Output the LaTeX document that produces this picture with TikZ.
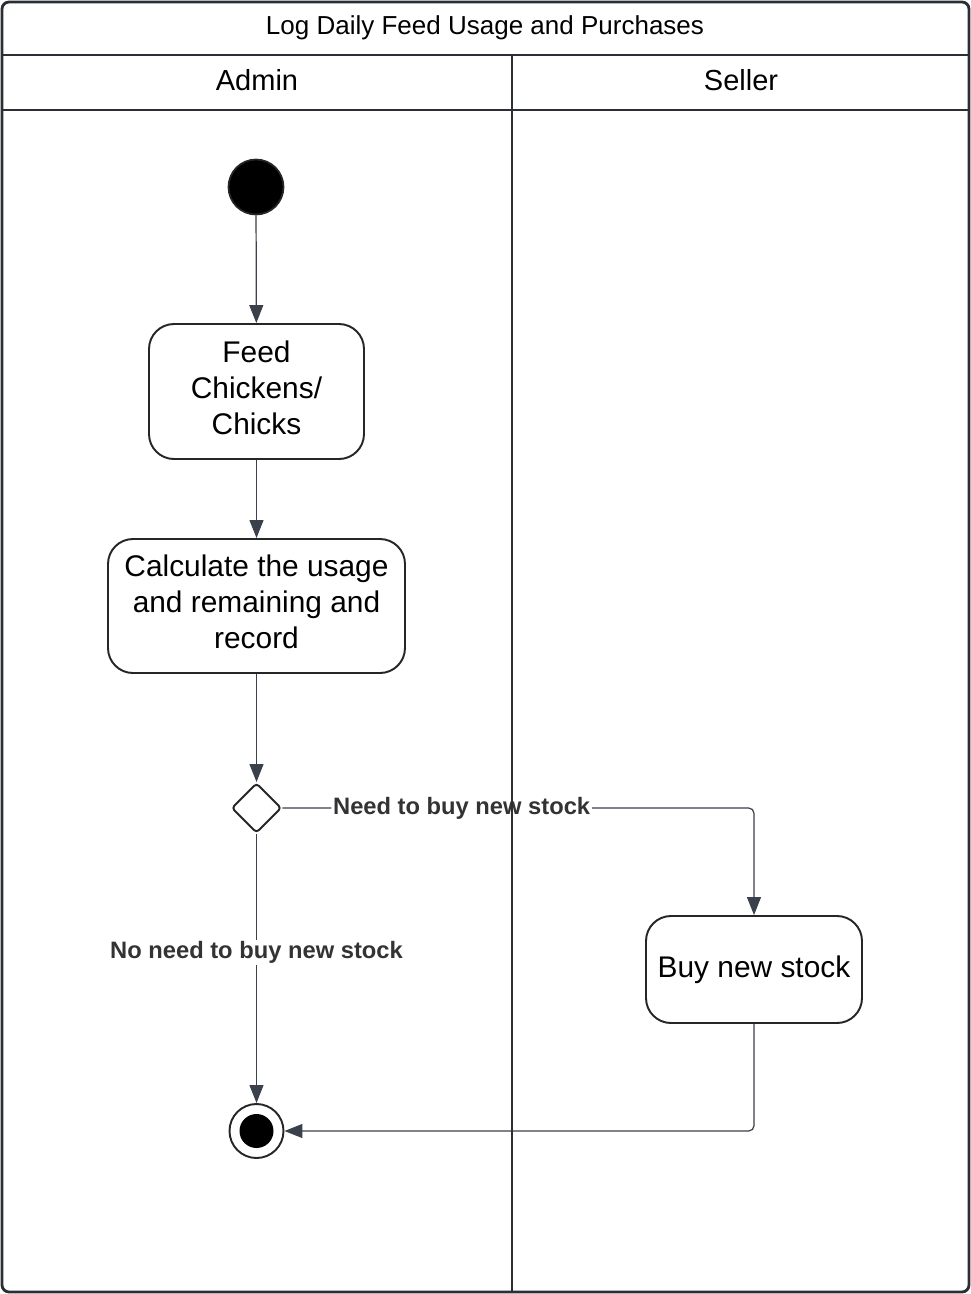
\documentclass[tikz,border=0pt]{standalone}
\usepackage{fontspec}
\setmainfont{Liberation Sans}
\usetikzlibrary{positioning}
\usetikzlibrary{shapes.geometric}
\usetikzlibrary{arrows.meta}
\definecolor{edgegray}{HTML}{3A414A}
\definecolor{labelgray}{HTML}{333333}
\definecolor{framegray}{HTML}{2B2F35}

\tikzset{
 activity/.style={draw=black!85, line width=1.1pt, rounded corners=0.5cm, align=center, fill=white,
   font=\fontsize{17}{20.5}\selectfont, inner sep=0pt},
 flow/.style={draw=edgegray, line width=0.7pt, -{Triangle[length=0.36cm,width=0.28cm]}},
 guard/.style={fill=white, text=labelgray, font=\fontsize{13.5}{16}\selectfont\bfseries, inner sep=1pt},
 lane/.style={draw=framegray, line width=1.2pt},
}

\begin{document}
\begin{tikzpicture}[x=2cm,y=2cm]
\useasboundingbox (0,0) rectangle (9.71,-12.94);

% activities
\node (start) at (2.56,-1.87) [circle, fill=black, draw=black!85, line width=1pt, minimum size=1.1cm, inner sep=0pt] {};
\node (feed) at (2.565,-3.915) [activity, minimum width=4.3cm, minimum height=2.7cm, text depth=0.16cm] {Feed\\Chickens/\\Chicks};
\node (calc) at (2.565,-6.06) [activity, minimum width=5.94cm, minimum height=2.68cm, text depth=0.16cm] {Calculate the usage\\and remaining and\\record};
\node (dec) at (2.565,-8.08) [diamond, draw=black!85, line width=1.1pt, rounded corners=2pt, fill=white, minimum width=1.0cm, minimum height=1.0cm, inner sep=0pt] {};
\node (buy) at (7.54,-9.695) [activity, minimum width=4.32cm, minimum height=2.14cm] {Buy new stock};
\node (stop) at (2.565,-11.31) [circle, draw=black!85, line width=1.1pt, fill=white, minimum size=1.08cm, inner sep=0pt] {};
\fill[black] (stop) circle (0.34cm);

% flows
\draw[flow] (start) -- (feed);
\draw[flow] (feed) -- (calc);
\draw[flow] (calc) -- (dec);
\draw[flow, rounded corners=3pt] (dec.east) -| node[guard, pos=0.19] {Need to buy new stock} (buy.north);
\draw[flow] (dec.south) -- node[guard, pos=0.44] {No need to buy new stock} (stop.north);
\draw[flow, rounded corners=3pt] (buy.south) |- (stop.east);

% swimlanes
\draw[lane, line width=1.6pt, rounded corners=4pt] (0.02,-0.02) rectangle (9.69,-12.92);
\draw[lane] (0.02,-0.55) -- (9.69,-0.55);
\draw[lane] (0.02,-1.10) -- (9.69,-1.10);
\draw[lane, line width=0.8pt] (5.12,-0.55) -- (5.12,-1.10);
\draw[lane, line width=1.5pt] (5.12,-1.10) -- (5.12,-12.92);

\node (title) at (4.85,-0.28) [font=\fontsize{14.8}{17}\selectfont] {Log Daily Feed Usage and Purchases};
\node (admin) at (2.57,-0.80) [font=\fontsize{16.5}{19}\selectfont] {Admin};
\node (seller) at (7.41,-0.80) [font=\fontsize{16.5}{19}\selectfont] {Seller};

\end{tikzpicture}
\end{document}
